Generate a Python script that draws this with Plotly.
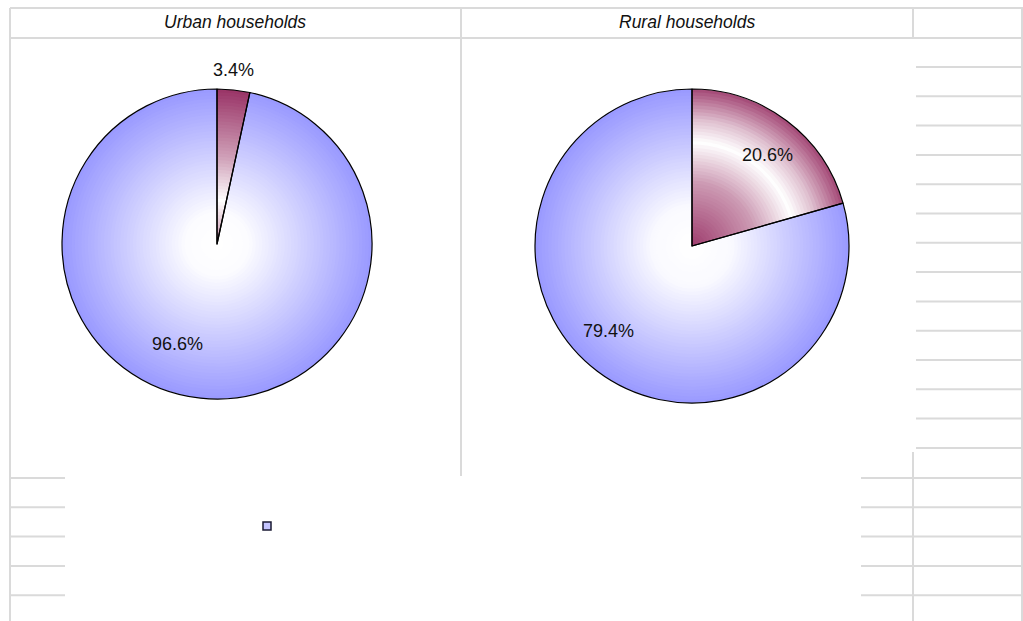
import plotly.graph_objects as go

# ---- data ----
panel_titles = ["Urban households", "Rural households"]
slice_names = ["Share A", "Share B"]
urban_values = [3.4, 96.6]
rural_values = [20.6, 79.4]

# ---- canvas ----
W, H = 1023, 621
FONT = "Liberation Sans, Arial, sans-serif"
GRID = "#dadada"

DARK_MAGENTA = (153, 51, 102)
DARK_BLUE = (153, 153, 255)


def px(x):
    return x / W


def py(y):
    return 1 - y / H


def domain(cx, cy, r):
    return dict(x=[px(cx - r), px(cx + r)], y=[py(cy + r), py(cy - r)])


def interp(points, r):
    for (r0, f0), (r1, f1) in zip(points[:-1], points[1:]):
        if r0 <= r <= r1:
            t = 0 if r1 == r0 else (r - r0) / (r1 - r0)
            return f0 + (f1 - f0) * t
    return points[-1][1]


def shade(dark, f):
    c = [round(255 + (d - 255) * f) for d in dark]
    return f"rgb({c[0]},{c[1]},{c[2]})"


# centre, radius and white-to-dark profiles (radius fraction -> depth) per slice
panels = [
    dict(values=urban_values, cx=217, cy=244, r=155,
         profiles=[[(0, 0.55), (0.28, 0.0), (0.55, 0.45), (1, 1.0)],
                   [(0, 0.0), (0.2, 0.03), (1, 1.0)]]),
    dict(values=rural_values, cx=692, cy=246, r=157,
         profiles=[[(0, 0.95), (0.4, 0.5), (0.66, 0.0), (0.8, 0.3), (1, 0.9)],
                   [(0, 0.0), (0.25, 0.05), (1, 1.0)]]),
]

fig = go.Figure()
LAYERS = 48
for p in panels:
    darks = [DARK_MAGENTA, DARK_BLUE]
    for k in range(LAYERS):
        frac = 1 - k / LAYERS
        rmid = frac - 0.5 / LAYERS
        colors = [shade(d, interp(prof, rmid)) for d, prof in zip(darks, p["profiles"])]
        fig.add_trace(go.Pie(
            labels=slice_names, values=p["values"], sort=False, direction="clockwise",
            domain=domain(p["cx"], p["cy"], p["r"] * frac),
            marker=dict(colors=colors, line=dict(width=0)),
            textinfo="none", hoverinfo="skip", showlegend=False,
        ))
    # outline on top
    fig.add_trace(go.Pie(
        labels=slice_names, values=p["values"], sort=False, direction="clockwise",
        domain=domain(p["cx"], p["cy"], p["r"]),
        marker=dict(colors=["rgba(0,0,0,0)"] * 2, line=dict(color="#000000", width=1.2)),
        textinfo="none", hoverinfo="skip", showlegend=False,
    ))

# ---- spreadsheet cell lines ----
shapes = []


def hline(y, x0, x1):
    shapes.append(dict(type="line", xref="paper", yref="paper", x0=px(x0), x1=px(x1),
                       y0=py(y), y1=py(y), line=dict(color=GRID, width=2), layer="below"))


def vline(x, y0, y1):
    shapes.append(dict(type="line", xref="paper", yref="paper", x0=px(x), x1=px(x),
                       y0=py(y0), y1=py(y1), line=dict(color=GRID, width=2), layer="below"))


hline(8, 10, 1023)
hline(38, 10, 1023)
vline(10, 8, 621)
vline(461, 8, 476)
vline(913, 8, 38)
vline(913, 452, 621)
vline(1022, 8, 621)
row_step = 29.3
for i in range(14):
    hline(67 + i * row_step, 916, 1023)
for i in range(5):
    y = 478 + i * row_step
    hline(y, 10, 65)
    hline(y, 861, 1023)

# legend key
shapes.append(dict(type="rect", xref="paper", yref="paper",
                   x0=px(263), x1=px(271), y0=py(530), y1=py(522),
                   line=dict(color="#1a1a33", width=1.5), fillcolor="#c4c4ff"))

# ---- text ----
annotations = []
for title, p in zip(panel_titles, [(235, 22), (687, 22)]):
    annotations.append(dict(text=f"<i>{title}</i>", x=px(p[0]), y=py(p[1]),
                            xref="paper", yref="paper", showarrow=False,
                            font=dict(family=FONT, size=17.5, color="#111111"),
                            xanchor="center", yanchor="middle"))

label_spots = [[(233, 70), (177, 344)], [(767, 155), (608, 331)]]
for p, spots in zip(panels, label_spots):
    for v, (lx, ly) in zip(p["values"], spots):
        annotations.append(dict(text=f"{v:.1f}%", x=px(lx), y=py(ly), xref="paper", yref="paper",
                                showarrow=False, font=dict(family=FONT, size=18, color="#111111"),
                                xanchor="center", yanchor="middle"))

fig.update_layout(
    width=W, height=H, margin=dict(l=0, r=0, t=0, b=0),
    paper_bgcolor="white", plot_bgcolor="white",
    shapes=shapes, annotations=annotations, showlegend=False,
)

fig.write_html("out.html")
